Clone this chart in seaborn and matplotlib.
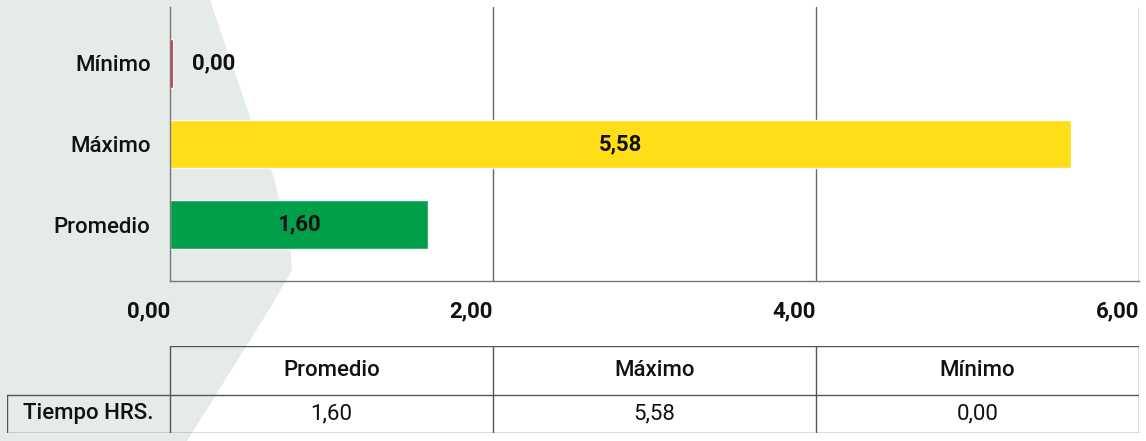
import matplotlib
matplotlib.use("Agg")
import matplotlib.pyplot as plt
import seaborn as sns
import pandas as pd
from matplotlib.patches import Polygon

categories = ["Mínimo", "Máximo", "Promedio"]
values = [0.00, 5.58, 1.60]
colors = ["#C0202A", "#FFDD17", "#00A04B"]
xticks = [0, 2, 4, 6]
table_cols = ["Promedio", "Máximo", "Mínimo"]
table_row_label = "Tiempo HRS."
table_vals = [1.60, 5.58, 0.00]

def fmt(v):
    return f"{v:.2f}".replace(".", ",")

sns.set_theme(style="white")
plt.rcParams["font.family"] = ["Roboto", "DejaVu Sans"]

W, H = 1146, 441
fig = plt.figure(figsize=(W / 100, H / 100), dpi=100)
fig.patch.set_facecolor("white")

# decorative background shape
def fx(px): return px / W
def fy(py): return 1 - py / H
shape = Polygon([(0, fy(0)), (fx(210), fy(0)), (fx(250), fy(117)), (fx(273), fy(175)),
                 (fx(290), fy(240)), (fx(292), fy(270)), (fx(272), fy(305)),
                 (fx(187), fy(441)), (0, fy(441))],
                closed=True, transform=fig.transFigure, facecolor="#E5EBE7",
                edgecolor="none", zorder=-5)
fig.patches.append(shape)

TXT = "#111111"
NW = 500
ax = fig.add_axes([170 / W, 1 - 281 / H, (1139 - 170) / W, (281 - 7) / H])
ax.patch.set_alpha(0)
df = pd.DataFrame({"cat": categories, "val": values})
df["plot"] = [v if v > 0 else 0.018 for v in values]
sns.barplot(data=df, y="cat", x="plot", hue="cat", palette=colors, orient="h",
            width=0.6, ax=ax, legend=False, saturation=1)
ax.set_xlim(0, 6)
ax.set_ylim(2.7, -0.7)
ax.set_xticks(xticks)
ax.set_xticklabels([fmt(t) for t in xticks], fontsize=16, fontweight="bold",
                   ha="right", color=TXT)
ax.tick_params(axis="x", length=0, pad=14)
ax.tick_params(axis="y", length=0, pad=14, labelsize=16, labelcolor=TXT)
for lab in ax.get_yticklabels():
    lab.set_fontweight(NW)
ax.set_xlabel("")
ax.set_ylabel("")
for t in xticks[1:]:
    ax.axvline(t, color="#666666", lw=1.0, zorder=0.5)
for s in ["top", "right"]:
    ax.spines[s].set_visible(False)
for s in ["left", "bottom"]:
    ax.spines[s].set_color("#777777")
    ax.spines[s].set_linewidth(1.0)

for i, v in enumerate(values):
    if v > 0.3:
        ax.text(v / 2, i, fmt(v), ha="center", va="center", fontsize=16,
                fontweight="bold", color=TXT)
    else:
        ax.text(0.136, i, fmt(v), ha="left", va="center", fontsize=16,
                fontweight="bold", color=TXT)

# data table
left_x = (7 - 170) / ((1139 - 170) / 6)
tax = fig.add_axes([7 / W, 1 - 433 / H, (1139 - 7) / W, (433 - 346) / H])
tax.set_xlim(left_x, 6)
tax.set_ylim(0, 87)
tax.axis("off")
mid = 433 - 395
lc = "#555555"
lw = 1.0
tax.plot([0, 6], [87, 87], color=lc, lw=lw)
tax.plot([left_x, 6], [mid, mid], color=lc, lw=lw)
tax.plot([left_x, 6], [0, 0], color=lc, lw=lw)
for xb in [0, 2, 4, 6]:
    tax.plot([xb, xb], [0, 87], color=lc, lw=lw)
tax.plot([left_x, left_x], [0, mid], color=lc, lw=lw)
for j, (c, v) in enumerate(zip(table_cols, table_vals)):
    tax.text(2 * j + 1, (87 + mid) / 2, c, ha="center", va="center", fontsize=16,
             color=TXT, fontweight=NW)
    tax.text(2 * j + 1, mid / 2, fmt(v), ha="center", va="center", fontsize=16,
             color=TXT)
tax.text(left_x / 2, mid / 2, table_row_label, ha="center", va="center", fontsize=16,
         color=TXT, fontweight=NW)

fig.savefig("out.png", dpi=100)
